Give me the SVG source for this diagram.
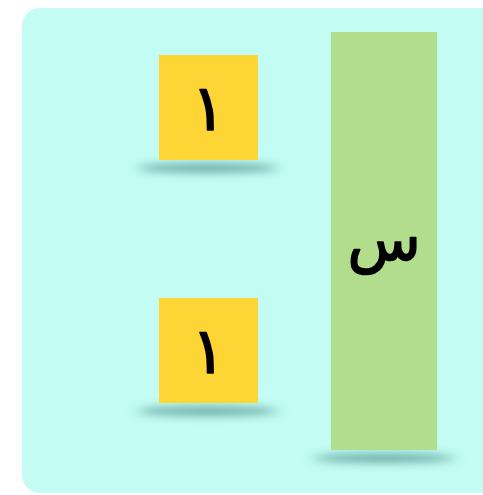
<svg xmlns="http://www.w3.org/2000/svg" width="483" height="495" viewBox="0 0 483 495">
<defs>
<filter id="blur" x="-50%" y="-300%" width="200%" height="700%"><feGaussianBlur stdDeviation="7 4"/></filter>
<style>
.sh{fill:#4f8f8d;opacity:0.7;filter:url(#blur)}
.num{fill:#FDD535}
.lbl{font-family:"DejaVu Sans","Noto Sans",sans-serif;fill:#000;stroke:#000;stroke-width:1.6;stroke-linejoin:round;text-anchor:middle}
</style>
</defs>
<rect x="0" y="0" width="483" height="495" fill="#ffffff"/>
<rect x="22" y="8" width="490" height="485" rx="18" fill="#C2FCF2"/>
<g id="box1">
<ellipse class="sh" cx="208" cy="168" rx="70" ry="5"/>
<rect class="num" x="159" y="55" width="99" height="105"/>
<text class="lbl" x="208.5" y="130" font-size="64">١</text>
</g>
<g id="box2">
<ellipse class="sh" cx="208" cy="411" rx="70" ry="5"/>
<rect class="num" x="159" y="298" width="99" height="105"/>
<text class="lbl" x="208.5" y="373" font-size="64">١</text>
</g>
<g id="bar">
<ellipse class="sh" cx="384" cy="458" rx="70" ry="5"/>
<rect x="331" y="32" width="106" height="418" fill="#B2DD8C"/>
<text class="lbl" x="384" y="260" font-size="60">س</text>
</g>
<g id="connectors"/>
</svg>
